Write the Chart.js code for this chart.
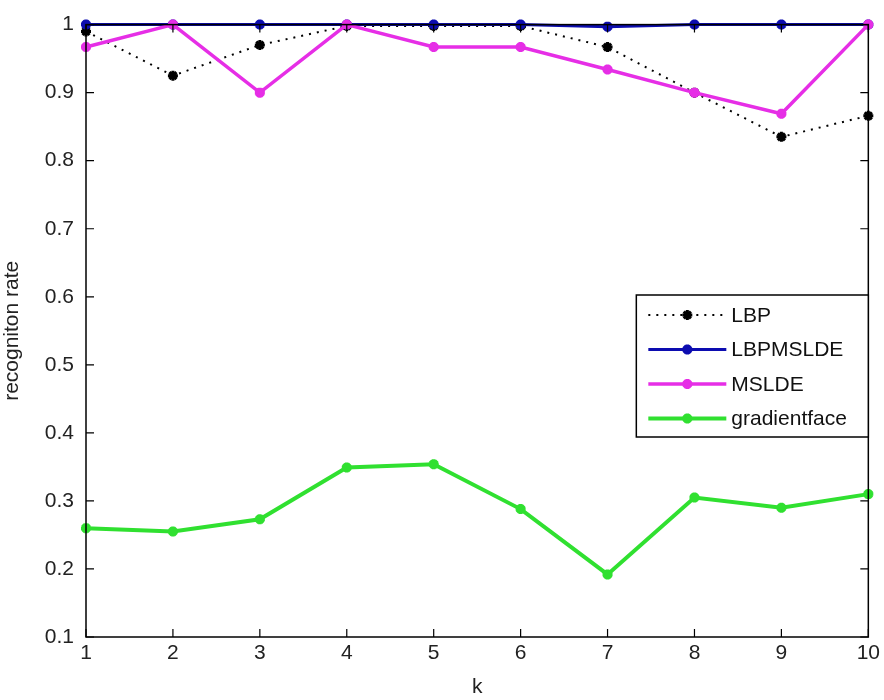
<!DOCTYPE html>
<html>
<head>
  <meta charset="UTF-8" />
  <title>recognition rate vs k</title>
  <script src="https://cdn.jsdelivr.net/npm/chart.js"></script>
  <style>
    html, body { margin: 0; padding: 0; background: #fff; }
    #wrap { width: 884px; height: 700px; }
  </style>
</head>
<body>
  <div id="wrap"><canvas id="rateChart" width="884" height="700"></canvas></div>

  <script>
    // data
    const kValues = [1, 2, 3, 4, 5, 6, 7, 8, 9, 10];
    const yTicks = [0.1, 0.2, 0.3, 0.4, 0.5, 0.6, 0.7, 0.8, 0.9, 1];
    const lbp = [0.99, 0.925, 0.97, 0.998, 0.998, 0.998, 0.967, 0.9, 0.835, 0.866];
    const lbpmslde = [1, 1, 1, 1, 1, 1, 0.997, 1, 1, 1];
    const mslde = [0.967, 1, 0.9, 1, 0.967, 0.967, 0.934, 0.9, 0.869, 1];
    const gradientface = [0.26, 0.255, 0.273, 0.349, 0.354, 0.288, 0.192, 0.305, 0.29, 0.31];

    const FONT = "'Liberation Sans', Arial, sans-serif";

    function toPoints(arr) {
      return arr.map((v, i) => ({ x: kValues[i], y: v }));
    }

    // matlab style box with inward ticks
    const axesBox = {
      id: 'axesBox',
      afterDatasetsDraw(chart) {
        const { ctx, chartArea: a, scales } = chart;
        ctx.save();
        ctx.strokeStyle = '#000';
        ctx.lineWidth = 1.5;
        ctx.strokeRect(a.left, a.top, a.right - a.left, a.bottom - a.top);
        ctx.lineWidth = 1.2;
        ctx.beginPath();
        scales.x.ticks.forEach(t => {
          const px = scales.x.getPixelForValue(t.value);
          ctx.moveTo(px, a.bottom); ctx.lineTo(px, a.bottom - 8);
          ctx.moveTo(px, a.top); ctx.lineTo(px, a.top + 8);
        });
        scales.y.ticks.forEach(t => {
          const py = scales.y.getPixelForValue(t.value);
          ctx.moveTo(a.left, py); ctx.lineTo(a.left + 8, py);
          ctx.moveTo(a.right, py); ctx.lineTo(a.right - 8, py);
        });
        ctx.stroke();
        ctx.restore();
      },
      afterDraw(chart) {
        // legend box inside the axes
        const { ctx, chartArea: a } = chart;
        const boxW = 232, boxH = 142;
        const bx = a.right - boxW, by = 295;
        ctx.save();
        ctx.fillStyle = '#fff';
        ctx.fillRect(bx, by, boxW, boxH);
        ctx.strokeStyle = '#000';
        ctx.lineWidth = 1.5;
        ctx.strokeRect(bx, by, boxW, boxH);
        ctx.font = '21px ' + FONT;
        ctx.textBaseline = 'middle';
        chart.data.datasets.forEach((ds, i) => {
          const y = by + 20 + i * 34.5;
          ctx.save();
          ctx.strokeStyle = ds.borderColor;
          ctx.lineWidth = ds.borderWidth;
          ctx.setLineDash(ds.borderDash || []);
          ctx.beginPath();
          ctx.moveTo(bx + 12, y); ctx.lineTo(bx + 90, y);
          ctx.stroke();
          ctx.setLineDash([]);
          ctx.fillStyle = ds.pointBackgroundColor;
          ctx.strokeStyle = ds.pointBorderColor;
          ctx.lineWidth = ds.pointBorderWidth;
          Chart.helpers.drawPoint(ctx, {
            pointStyle: ds.pointStyle, radius: ds.pointRadius,
            rotation: 0, borderWidth: ds.pointBorderWidth
          }, bx + 51, y);
          ctx.restore();
          ctx.fillStyle = '#111';
          ctx.fillText(ds.label, bx + 95, y + 1);
        });
        ctx.restore();
      }
    };

    const ctx = document.getElementById('rateChart').getContext('2d');
    new Chart(ctx, {
      type: 'line',
      data: {
        datasets: [
          {
            label: 'LBP', data: toPoints(lbp), order: 4,
            borderColor: '#000', borderWidth: 2, borderDash: [2, 6],
            pointStyle: 'star', pointRadius: 5, pointBorderWidth: 3,
            pointBackgroundColor: '#000', pointBorderColor: '#000'
          },
          {
            label: 'LBPMSLDE', data: toPoints(lbpmslde), order: 3,
            borderColor: '#0c0cb0', borderWidth: 3,
            pointStyle: 'star', pointRadius: 5, pointBorderWidth: 3.5,
            pointBackgroundColor: '#0c0cb0', pointBorderColor: '#0c0cb0'
          },
          {
            label: 'MSLDE', data: toPoints(mslde), order: 2,
            borderColor: '#e62ee6', borderWidth: 3.5,
            pointStyle: 'star', pointRadius: 5, pointBorderWidth: 3.5,
            pointBackgroundColor: '#e62ee6', pointBorderColor: '#e62ee6'
          },
          {
            label: 'gradientface', data: toPoints(gradientface), order: 1,
            borderColor: '#30e030', borderWidth: 4,
            pointStyle: 'star', pointRadius: 5, pointBorderWidth: 3.5,
            pointBackgroundColor: '#30e030', pointBorderColor: '#30e030'
          }
        ]
      },
      options: {
        responsive: false,
        animation: false,
        clip: false,
        layout: { padding: { top: 20, right: 15, left: 0, bottom: 0 } },
        plugins: { legend: { display: false }, tooltip: { enabled: false } },
        elements: { line: { tension: 0 } },
        scales: {
          x: {
            type: 'linear', min: 1, max: 10,
            grid: { display: false, drawTicks: false },
            border: { display: false },
            afterBuildTicks: s => { s.ticks = kValues.map(v => ({ value: v })); },
            afterFit: s => { s.height = 63; },
            ticks: {
              padding: 4, color: '#222', maxRotation: 0,
              font: { family: FONT, size: 21 },
              callback: v => String(v)
            },
            title: {
              display: true, text: 'k', color: '#222',
              font: { family: FONT, size: 21 }, padding: { top: 0, bottom: 0 }
            }
          },
          y: {
            min: 0.1, max: 1,
            grid: { display: false, drawTicks: false },
            border: { display: false },
            afterBuildTicks: s => { s.ticks = yTicks.map(v => ({ value: v })); },
            afterFit: s => { s.width = 86; },
            ticks: {
              padding: 12, color: '#222',
              font: { family: FONT, size: 21 },
              callback: v => (v === 1 ? '1' : v.toFixed(1))
            },
            title: {
              display: true, text: 'recogniton rate', color: '#222',
              font: { family: FONT, size: 21 }, padding: { top: 0, bottom: 0 }
            }
          }
        }
      },
      plugins: [axesBox]
    });
  </script>
</body>
</html>
